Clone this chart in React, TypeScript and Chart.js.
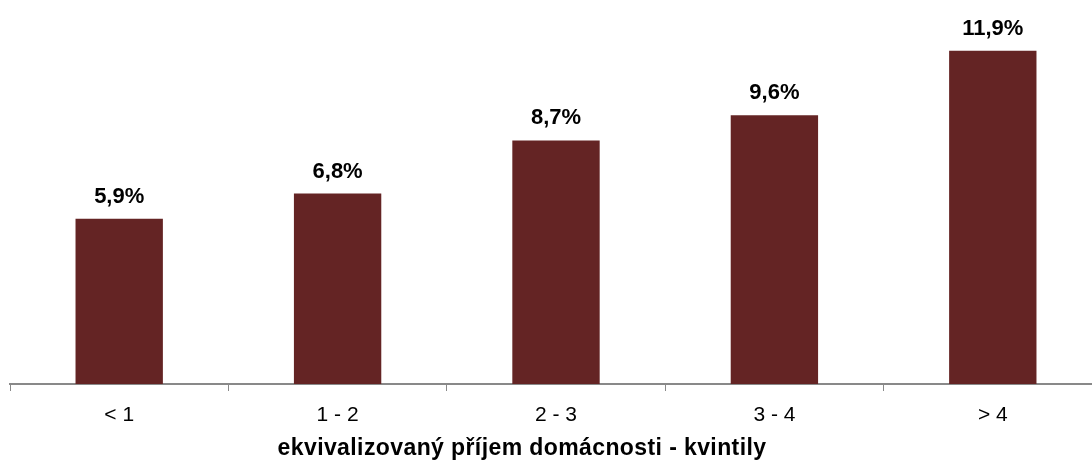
import React, { useEffect, useRef } from "react";
import { Chart, registerables } from "chart.js";

Chart.register(...registerables);

const categories = ["< 1", "1 - 2", "2 - 3", "3 - 4", "> 4"];
const values = [5.9, 6.8, 8.7, 9.6, 11.9];
const axisTitle = "ekvivalizovaný příjem domácnosti - kvintily";

const FONT = "'Liberation Sans', Arial, sans-serif";
const BAR_COLOR = "#642424";
const AXIS_COLOR = "#898989";

const fmt = (v: number) => v.toFixed(1).replace(".", ",") + "%";

export default function App() {
  const ref = useRef<HTMLCanvasElement | null>(null);

  useEffect(() => {
    if (!ref.current) return;
    const labelPlugin = {
      id: "valueLabels",
      afterDatasetsDraw(chart: any) {
        const ctx = chart.ctx;
        const meta = chart.getDatasetMeta(0);
        ctx.save();
        ctx.font = `bold 22px ${FONT}`;
        ctx.fillStyle = "#000";
        ctx.textAlign = "center";
        ctx.textBaseline = "alphabetic";
        meta.data.forEach((bar: any, i: number) => {
          ctx.fillText(fmt(values[i]), bar.x, bar.y - 16);
        });
        ctx.restore();
      },
      afterDraw(chart: any) {
        const ctx = chart.ctx;
        ctx.save();
        ctx.font = `bold 23px ${FONT}`;
        (ctx as any).letterSpacing = "0.4px";
        ctx.fillStyle = "#000";
        ctx.textAlign = "center";
        ctx.textBaseline = "alphabetic";
        ctx.fillText(axisTitle, 522, 455);
        ctx.restore();
      },
    };

    const chart = new Chart(ref.current, {
      type: "bar",
      data: {
        labels: categories,
        datasets: [
          {
            data: values,
            backgroundColor: BAR_COLOR,
            barPercentage: 0.4,
            categoryPercentage: 1,
          },
        ],
      },
      options: {
        animation: false,
        responsive: false,
        maintainAspectRatio: false,
        layout: { padding: { left: 10, right: 10, top: 20, bottom: 0 } },
        plugins: {
          legend: { display: false },
          tooltip: { enabled: false },
        },
        scales: {
          x: {
            offset: true,
            afterFit: (scale: any) => {
              scale.height = 77;
            },
            grid: {
              offset: true,
              drawOnChartArea: false,
              drawTicks: true,
              tickLength: 7,
              color: AXIS_COLOR,
              lineWidth: 1,
            },
            border: { display: true, color: AXIS_COLOR, width: 2 },
            ticks: {
              color: "#000",
              font: { family: FONT, size: 21 },
              padding: 12,
              maxRotation: 0,
            },
          },
          y: {
            display: false,
            min: 0,
            max: 13,
          },
        },
      },
      plugins: [labelPlugin],
    });
    return () => chart.destroy();
  }, []);

  return (
    <div
      style={{
        position: "fixed",
        left: 0,
        top: 0,
        width: 1092,
        height: 461,
        overflow: "hidden",
        background: "#fff",
      }}
    >
      <canvas ref={ref} width={1112} height={461} style={{ display: "block" }} />
    </div>
  );
}
